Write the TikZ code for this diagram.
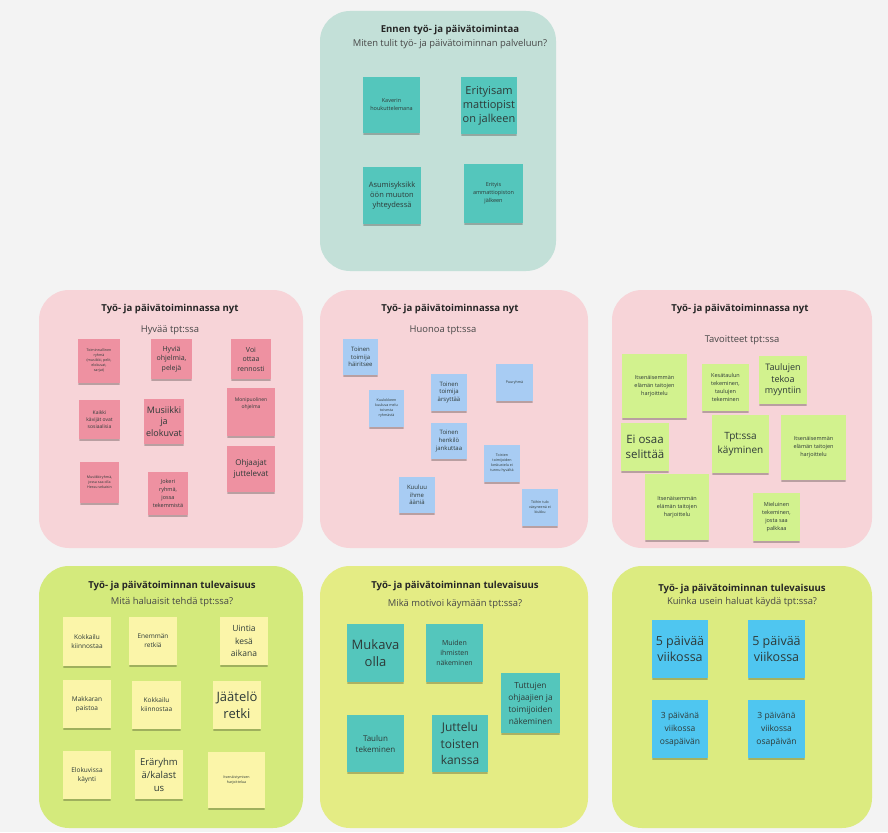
\documentclass[tikz,border=0pt]{standalone}
\usepackage{fontspec}
\setmainfont{Open Sans}
\usetikzlibrary{shadows}
\definecolor{bgc}{HTML}{F3F3F3}
\definecolor{panteal}{HTML}{C3E0D8}
\definecolor{panpink}{HTML}{F7D4D8}
\definecolor{panlimeA}{HTML}{D4EA7C}
\definecolor{panlimeB}{HTML}{E4EC84}
\definecolor{panlimeC}{HTML}{DCEB80}
\definecolor{nteal}{HTML}{54C6BC}
\definecolor{npink}{HTML}{EE91A1}
\definecolor{nblue}{HTML}{A8CCF3}
\definecolor{ngreen}{HTML}{D2F28E}
\definecolor{nyellow}{HTML}{FBF5A9}
\definecolor{ncyan}{HTML}{4FC6F0}
\definecolor{txt}{HTML}{2E3A38}
\tikzset{
  panel/.style={fill=#1, draw=none, rounded corners=30pt},
  note/.style={fill=#1, draw=none, inner sep=1pt, align=center, text=txt,
    drop shadow={shadow xshift=0pt, shadow yshift=-3pt, shadow scale=0.96, opacity=0.10, fill=black},
    drop shadow={shadow xshift=0pt, shadow yshift=-1.5pt, opacity=0.16, fill=black}},
  sz/.style 2 args={minimum width=#1pt, minimum height=#2pt},
  ptitle/.style={font=\fontsize{9.6}{11}\selectfont\bfseries, text=black!85, inner sep=0pt},
  psub/.style={font=\fontsize{9.4}{11}\selectfont, text=black!72, inner sep=0pt},
  ftiny/.style={font=\fontsize{3.6}{5}\selectfont},
  fsmall/.style={font=\fontsize{5.5}{8}\selectfont},
  fmed/.style={font=\fontsize{7}{9.5}\selectfont},
  fxl/.style={font=\fontsize{13}{17}\selectfont},
  flarge/.style={font=\fontsize{11}{14}\selectfont},
}
\begin{document}
\begin{tikzpicture}[x=1pt,y=-1pt]
\fill[bgc] (0,0) rectangle (888,832);
\useasboundingbox (0,0) rectangle (888,832);
% panels
\fill[panel=panteal] (320,11) rectangle (556,271);
\fill[panel=panpink] (39,290) rectangle (303,548);
\fill[panel=panpink] (320,290) rectangle (588,548);
\fill[panel=panpink] (612,290) rectangle (872,548);
\fill[panel=panlimeA] (39,566) rectangle (303,828);
\fill[panel=panlimeB] (320,566) rectangle (588,828);
\fill[panel=panlimeC] (612,566) rectangle (872,828);
% top panel
\node[ptitle] (tt) at (450,30) {Ennen työ- ja päivätoimintaa};
\node[psub] (ts) at (450,44) {Miten tulit työ- ja päivätoiminnan palveluun?};
\node[note=nteal, sz={57}{56}, fsmall] (t1) at (391.5,105) {Kaverin\\houkuttelemana};
\node[note=nteal, sz={56}{57}, flarge] (t2) at (489,105.5) {Erityisam\\mattiopist\\on jalkeen};
\node[note=nteal, sz={58}{57}, font=\fontsize{7.5}{10}\selectfont] (t3) at (392,195.5) {Asumisyksikk\\öön muuton\\yhteydessä};
\node[note=nteal, sz={59}{59}, fsmall] (t4) at (493.5,193.5) {Erityis\\ammattiopiston\\jälkeen};
% middle left
\node[ptitle] (mlt) at (170,309) {Työ- ja päivätoiminnassa nyt};
\node[psub] (mls) at (170,330) {Hyvää tpt:ssa};
\node[note=npink, sz={42}{44}, ftiny] (p1) at (99,361) {Toiminnallinen\\ryhmä\\(musiikki, pelit,\\elokuvat,\\sarjat)};
\node[note=npink, sz={41}{40}, fmed] (p2) at (171.5,359) {Hyviä\\ohjelmia,\\pelejä};
\node[note=npink, sz={40}{40}, fmed] (p3) at (251,359) {Voi\\ottaa\\rennosti};
\node[note=npink, sz={41}{39}, font=\fontsize{5}{7.2}\selectfont] (p4) at (99.5,419.5) {Kaikki\\kävijät ovat\\sosiaalisia};
\node[note=npink, sz={40}{45}, font=\fontsize{9}{11.5}\selectfont] (p5) at (164,421.5) {Musiikki\\ja\\elokuvat};
\node[note=npink, sz={48}{48}, font=\fontsize{5}{7.2}\selectfont] (p6) at (251,412) {Monipuolinen\\ohjelma\\[10pt]};
\node[note=npink, sz={39}{41}, ftiny] (p7) at (99.5,482.5) {Musiikkiryhmä,\\jossa saa olla\\Hessu sekaisin};
\node[note=npink, sz={40}{43}, font=\fontsize{5.5}{8}\selectfont] (p8) at (168,493.5) {Jokeri\\ryhmä,\\jossa\\tekemmistä};
\node[note=npink, sz={48}{46}, font=\fontsize{8}{11}\selectfont] (p9) at (251,469) {Ohjaajat\\juttelevat};
% middle center
\node[ptitle] (mct) at (450,309) {Työ- ja päivätoiminnassa nyt};
\node[psub] (mcs) at (443,330) {Huonoa tpt:ssa};
\node[note=nblue, sz={35}{36}, font=\fontsize{6}{7.6}\selectfont] (b1) at (360.5,357) {Toinen\\toimija\\häiritsee};
\node[note=nblue, sz={35}{37}, ftiny] (b2) at (386.5,408.5) {Kuulokkeen\\kuuluva melu\\toisesta\\ryhmästä};
\node[note=nblue, sz={36}{37}, font=\fontsize{6}{7.6}\selectfont] (b3) at (449,392.5) {Toinen\\toimija\\ärsyttää};
\node[note=nblue, sz={37}{37}, ftiny] (b4) at (514.5,382.5) {Puuryhmä};
\node[note=nblue, sz={36}{36}, font=\fontsize{6}{7.6}\selectfont] (b5) at (449,441) {Toinen\\henkilö\\jankuttaa};
\node[note=nblue, sz={36}{37}, ftiny] (b6) at (502,463.5) {Toisten\\toimijoiden\\keskustelu ei\\tunnu hyvältä};
\node[note=nblue, sz={36}{36}, font=\fontsize{6}{7.6}\selectfont] (b7) at (417,495) {Kuuluu\\ihme\\ääniä};
\node[note=nblue, sz={36}{37}, ftiny] (b8) at (540,507.5) {Töihin tulo\\väsyneenä ei\\kiukku};
% middle right
\node[ptitle] (mrt) at (740,309) {Työ- ja päivätoiminnassa nyt};
\node[psub] (mrs) at (742,340) {Tavoitteet tpt:ssa};
\node[note=ngreen, sz={65}{64}, fsmall] (g1) at (654.5,386) {Itsenäisemmän\\elämän taitojen\\harjoittelu};
\node[note=ngreen, sz={47}{47}, fsmall] (g2) at (725.5,387.5) {Kesätaulun\\tekeminen,\\taulujen\\tekeminen};
\node[note=ngreen, sz={48}{48}, font=\fontsize{9}{11.5}\selectfont] (g3) at (783,380) {Taulujen\\tekoa\\myyntiin};
\node[note=ngreen, sz={48}{48}, font=\fontsize{11.5}{14.5}\selectfont] (g4) at (645,447) {Ei osaa\\selittää};
\node[note=ngreen, sz={57}{58}, font=\fontsize{10}{13.5}\selectfont] (g5) at (740.5,444) {Tpt:ssa\\käyminen};
\node[note=ngreen, sz={65}{65}, fsmall] (g6) at (813.5,447.5) {Itsenäisemmän\\elämän taitojen\\harjoittelu};
\node[note=ngreen, sz={64}{66}, fsmall] (g7) at (677,507) {Itsenäisemmän\\elämän taitojen\\harjoittelu};
\node[note=ngreen, sz={47}{48}, fsmall] (g8) at (776.5,517) {Mieluinen\\tekeminen,\\josta saa\\palkkaa};
% bottom left
\node[ptitle] (blt) at (172,586) {Työ- ja päivätoiminnan tulevaisuus};
\node[psub] (bls) at (172,602) {Mitä haluaisit tehdä tpt:ssa?};
\node[note=nyellow, sz={48}{49}, font=\fontsize{6.5}{9}\selectfont] (y1) at (87,641.5) {Kokkailu\\kiinnostaa};
\node[note=nyellow, sz={48}{48}, font=\fontsize{6.5}{9}\selectfont] (y2) at (153,641) {Enemmän\\retkiä};
\node[note=nyellow, sz={48}{48}, font=\fontsize{8.5}{12.5}\selectfont] (y3) at (244,641) {Uintia\\kesä\\aikana};
\node[note=nyellow, sz={48}{48}, font=\fontsize{6.5}{9}\selectfont] (y4) at (87,704) {Makkaran\\paistoa};
\node[note=nyellow, sz={49}{48}, font=\fontsize{6.5}{9}\selectfont] (y5) at (156.5,705) {Kokkailu\\kiinnostaa};
\node[note=nyellow, sz={48}{48}, font=\fontsize{13}{17}\selectfont] (y6) at (237,705) {Jäätelö\\retki};
\node[note=nyellow, sz={48}{48}, font=\fontsize{6.5}{9}\selectfont] (y7) at (87,775) {Elokuvissa\\käynti};
\node[note=nyellow, sz={48}{49}, font=\fontsize{9.5}{13}\selectfont] (y8) at (159,774.5) {Eräryhm\\ä/kalast\\us};
\node[note=nyellow, sz={57}{56}, ftiny] (y9) at (236.5,780) {Itsenäistymisen\\harjoittelua};
% bottom center
\node[ptitle] (bct) at (455,586) {Työ- ja päivätoiminnan tulevaisuus};
\node[psub] (bcs) at (455,604) {Mikä motivoi käymään tpt:ssa?};
\node[note=nteal, sz={57}{58}, fxl] (c1) at (375.5,653) {Mukava\\olla};
\node[note=nteal, sz={57}{58}, font=\fontsize{7}{10}\selectfont] (c2) at (454.5,653) {Muiden\\ihmisten\\näkeminen};
\node[note=nteal, sz={59}{60}, font=\fontsize{8.3}{12}\selectfont] (c3) at (530.5,703) {Tuttujen\\ohjaajien ja\\toimijoiden\\näkeminen};
\node[note=nteal, sz={57}{57}, font=\fontsize{8}{11}\selectfont] (c4) at (375.5,743.5) {Taulun\\tekeminen};
\node[note=nteal, sz={56}{57}, font=\fontsize{12}{16.5}\selectfont] (c5) at (460,743.5) {Juttelu\\toisten\\kanssa};
% bottom right
\node[ptitle] (brt) at (742,589) {Työ- ja päivätoiminnan tulevaisuus};
\node[psub] (brs) at (742,602) {Kuinka usein haluat käydä tpt:ssa?};
\node[note=ncyan, sz={56}{58}, font=\fontsize{12.5}{16.5}\selectfont] (d1) at (680,649) {5 päivää\\viikossa};
\node[note=ncyan, sz={57}{58}, font=\fontsize{12.5}{16.5}\selectfont] (d2) at (776.5,649) {5 päivää\\viikossa};
\node[note=ncyan, sz={56}{58}, font=\fontsize{8.5}{13}\selectfont] (d3) at (680,729) {3 päivänä\\viikossa\\osapäivän};
\node[note=ncyan, sz={57}{58}, font=\fontsize{8.5}{13}\selectfont] (d4) at (776.5,729) {3 päivänä\\viikossa\\osapäivän};
\end{tikzpicture}
\end{document}
